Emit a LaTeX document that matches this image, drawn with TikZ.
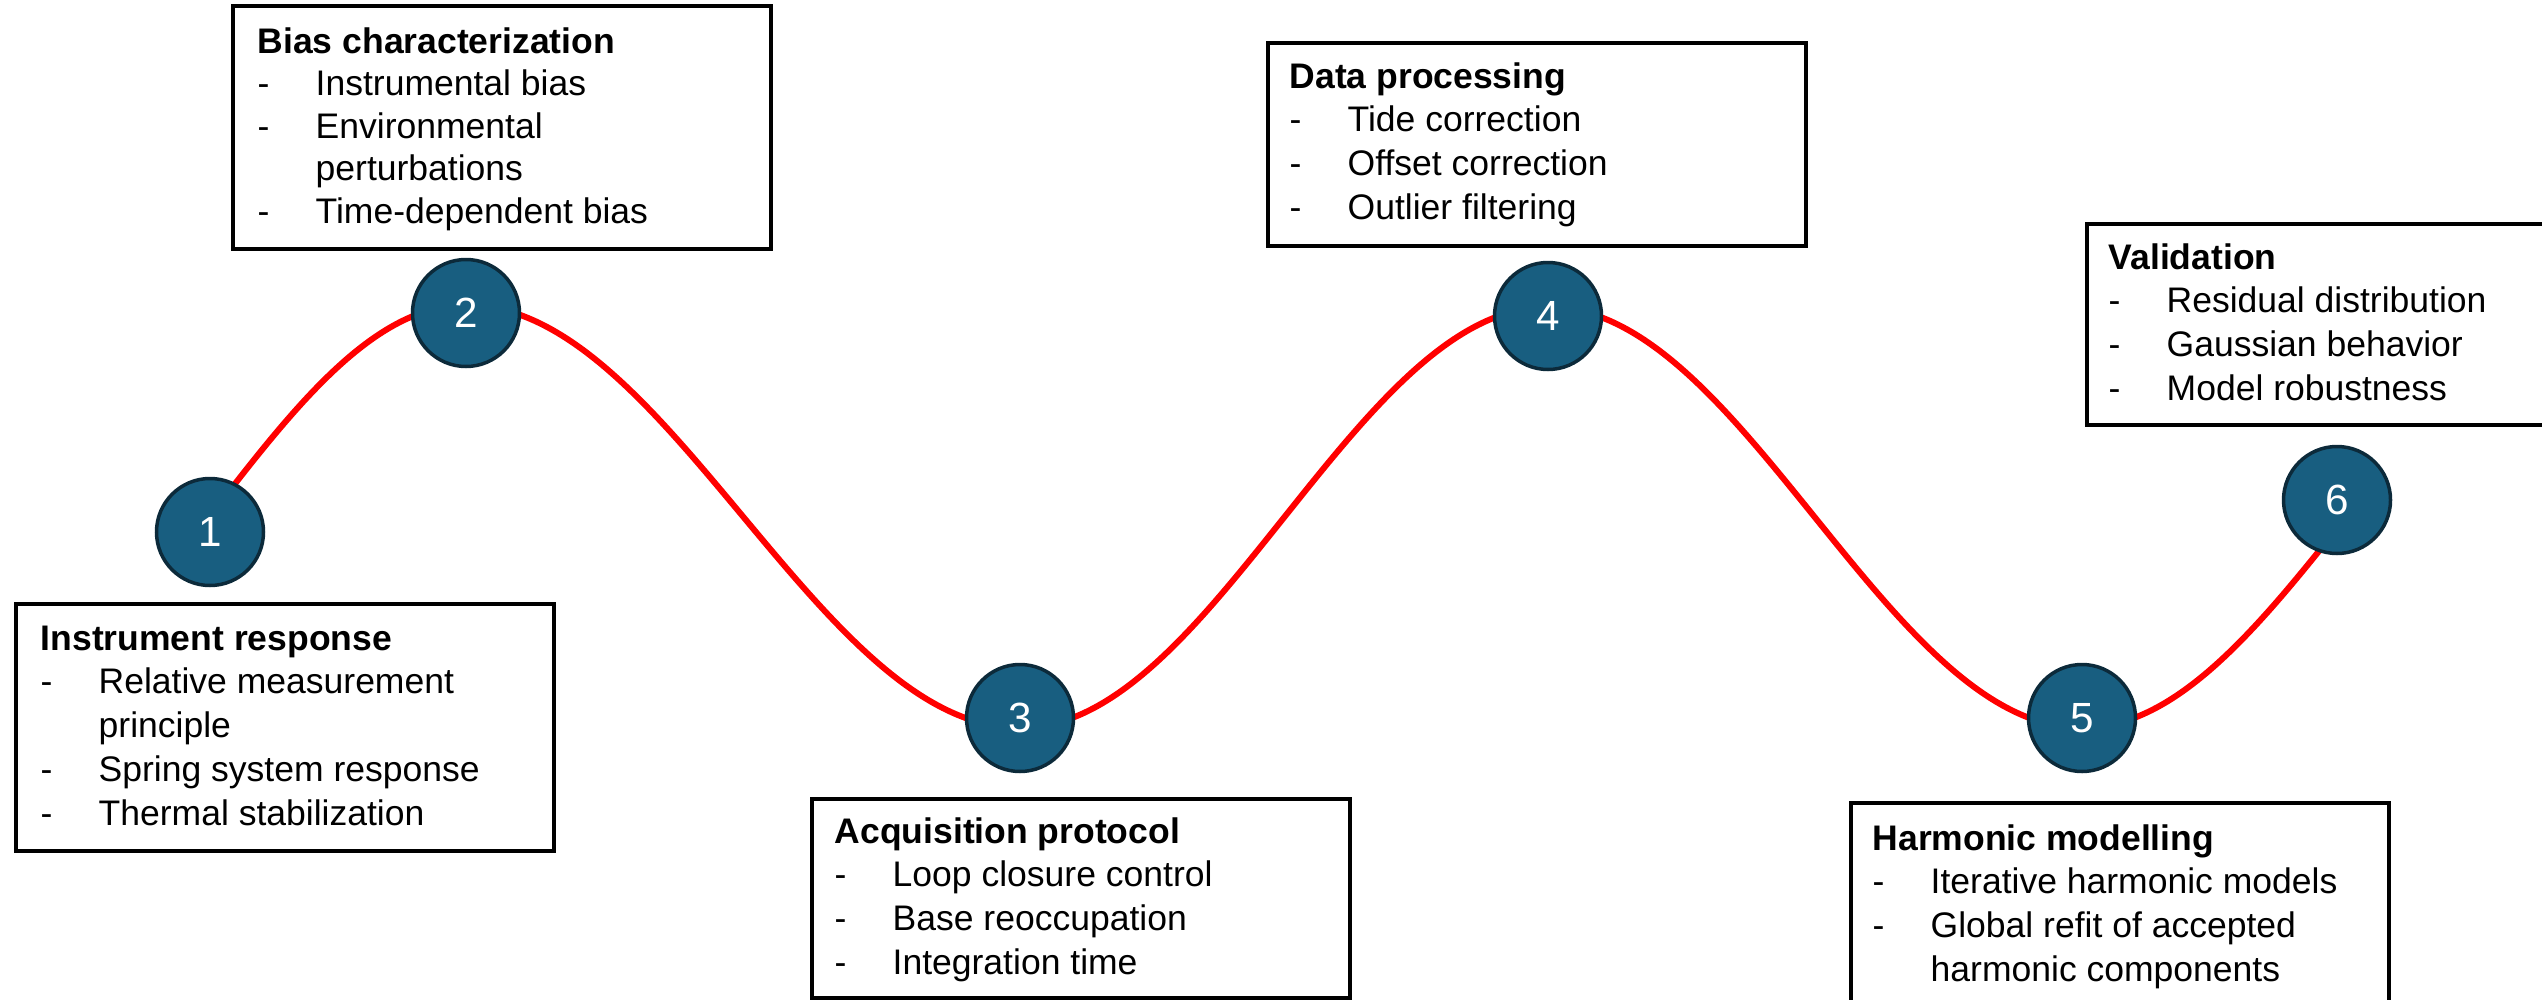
\documentclass[tikz,border=0pt]{standalone}
\usepackage{fontspec}
\setmainfont{Liberation Sans}
\usetikzlibrary{calc}

% one drawing unit = one pixel of the 2542 x 1000 canvas
\newlength\pxu
\setlength\pxu{0.01cm}

\definecolor{stagefill}{RGB}{24,94,128}
\definecolor{stageline}{RGB}{12,42,58}

% rows of the description boxes
\newcommand\boxtitle[1]{\multicolumn{2}{@{}l@{}}{\bfseries #1}\\}
\newcommand\boxitem[1]{-&#1\\}
\newcommand\boxmore[1]{&#1\\}

\begin{document}
\begin{tikzpicture}[x=0.01cm, y=-0.01cm,
  stagebox/.style={rectangle, draw=black, fill=white, line width=4\pxu,
    inner sep=0pt, outer sep=0pt, minimum width=538\pxu, anchor=north west},
  boxtext/.style={anchor=base west, inner sep=0pt, text=black,
    font=\fontsize{10.1}{12.5}\selectfont},
  stage/.style={circle, draw=stageline, fill=stagefill, line width=3.5\pxu,
    minimum size=107\pxu, inner sep=0pt, text=white,
    font=\fontsize{12}{14}\selectfont},
  wave/.style={draw=red, line width=6\pxu}]

\useasboundingbox (0,0) rectangle (2542,1000);

% extremes of the wave
\coordinate (w0) at (210,516);
\coordinate (w1) at (466,305);
\coordinate (w2) at (1020,728);
\coordinate (w3) at (1548,307);
\coordinate (w4) at (2082,728);
\coordinate (w5) at (2347,516);

% the red wave running through the stages
\draw[wave] (w0) sin (w1)
  cos ($(w1)!0.5!(w2)$) sin (w2)
  cos ($(w2)!0.5!(w3)$) sin (w3)
  cos ($(w3)!0.5!(w4)$) sin (w4)
  cos (w5);

% numbered stages
\node[stage] (c1) at (210,532) {1};
\node[stage] (c2) at (466,313) {2};
\node[stage] (c3) at (1020,718) {3};
\node[stage] (c4) at (1548,316) {4};
\node[stage] (c5) at (2082,718) {5};
\node[stage] (c6) at (2337,500) {6};

% description boxes
\node[stagebox, minimum height=247\pxu] (b1) at (16,604) {};
\node[boxtext] (t1) at ($(b1.north west)+(24,46)$) {%
  \begin{tabular}[t]{@{}p{58\pxu}@{}l@{}}
  \boxtitle{Instrument response}
  \boxitem{Relative measurement}
  \boxmore{principle}
  \boxitem{Spring system response}
  \boxitem{Thermal stabilization}
  \end{tabular}};

\node[stagebox, minimum height=243\pxu] (b2) at (233,6) {};
\node[boxtext, font=\fontsize{10.1}{12.1}\selectfont] (t2)
  at ($(b2.north west)+(24,47)$) {%
  \begin{tabular}[t]{@{}p{58\pxu}@{}l@{}}
  \boxtitle{Bias characterization}
  \boxitem{Instrumental bias}
  \boxitem{Environmental}
  \boxmore{perturbations}
  \boxitem{Time-dependent bias}
  \end{tabular}};

\node[stagebox, minimum height=199\pxu] (b3) at (812,799) {};
\node[boxtext] (t3) at ($(b3.north west)+(22,44)$) {%
  \begin{tabular}[t]{@{}p{58\pxu}@{}l@{}}
  \boxtitle{Acquisition protocol}
  \boxitem{Loop closure control}
  \boxitem{Base reoccupation}
  \boxitem{Integration time}
  \end{tabular}};

\node[stagebox, minimum height=203\pxu] (b4) at (1268,43) {};
\node[boxtext] (t4) at ($(b4.north west)+(21,45)$) {%
  \begin{tabular}[t]{@{}p{58\pxu}@{}l@{}}
  \boxtitle{Data processing}
  \boxitem{Tide correction}
  \boxitem{Offset correction}
  \boxitem{Outlier filtering}
  \end{tabular}};

\node[stagebox, minimum width=480\pxu, minimum height=201\pxu] (b5) at (2087,224) {};
\node[boxtext] (t5) at ($(b5.north west)+(21,45)$) {%
  \begin{tabular}[t]{@{}p{58\pxu}@{}l@{}}
  \boxtitle{Validation}
  \boxitem{Residual distribution}
  \boxitem{Gaussian behavior}
  \boxitem{Model robustness}
  \end{tabular}};

\node[stagebox, minimum height=230\pxu] (b6) at (1851,803) {};
\node[boxtext] (t6) at ($(b6.north west)+(21,47)$) {%
  \begin{tabular}[t]{@{}p{58\pxu}@{}l@{}}
  \boxtitle{Harmonic modelling}
  \boxitem{Iterative harmonic models}
  \boxitem{Global refit of accepted}
  \boxmore{harmonic components}
  \end{tabular}};

\end{tikzpicture}
\end{document}
